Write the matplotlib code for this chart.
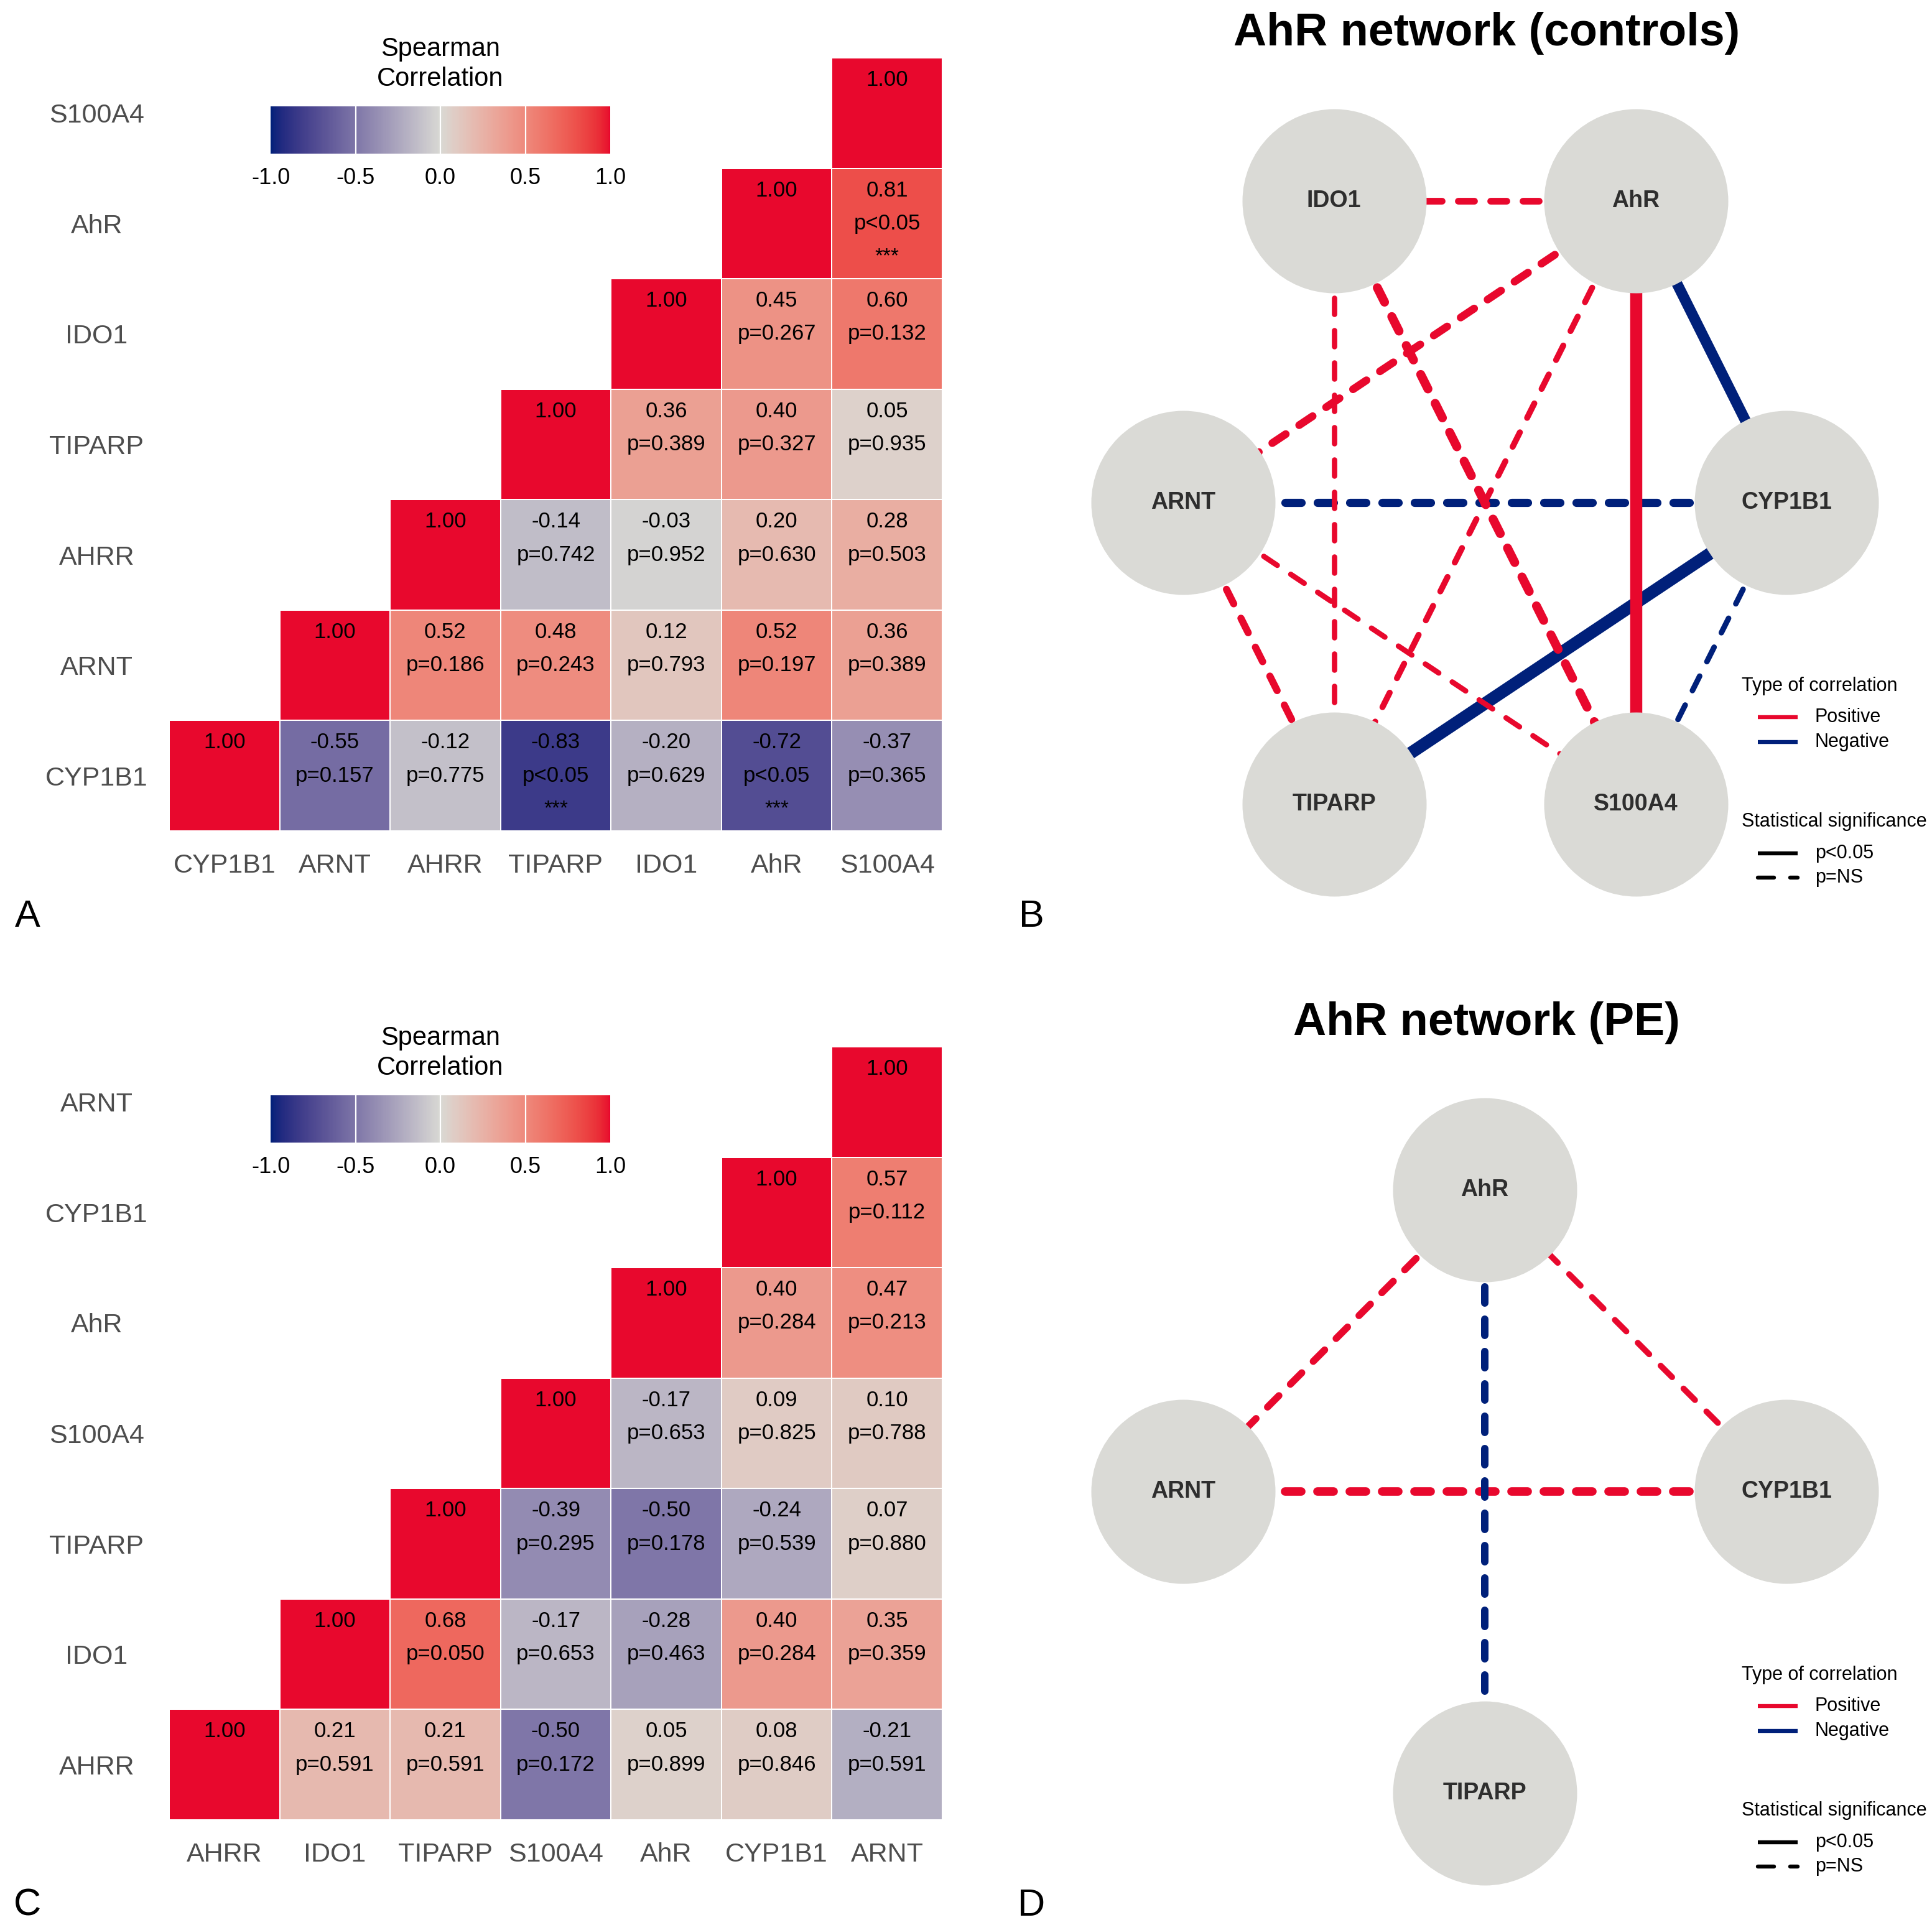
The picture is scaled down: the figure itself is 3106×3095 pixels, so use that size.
import matplotlib
matplotlib.use("Agg")
import matplotlib.pyplot as plt
import numpy as np
from matplotlib.colors import ListedColormap
from matplotlib.lines import Line2D

plt.rcParams['font.family'] = ['Liberation Sans', 'DejaVu Sans']
plt.rcParams['axes.unicode_minus'] = False

# ---- data: controls ----
genes_ctrl = ['CYP1B1', 'ARNT', 'AHRR', 'TIPARP', 'IDO1', 'AhR', 'S100A4']
# row i holds the values for columns i..6
r_ctrl = [
    [1.00, -0.55, -0.12, -0.83, -0.20, -0.72, -0.37],
    [1.00, 0.52, 0.48, 0.12, 0.52, 0.36],
    [1.00, -0.14, -0.03, 0.20, 0.28],
    [1.00, 0.36, 0.40, 0.05],
    [1.00, 0.45, 0.60],
    [1.00, 0.81],
    [1.00],
]
p_ctrl = [
    ['', '0.157', '0.775', '<0.05', '0.629', '<0.05', '0.365'],
    ['', '0.186', '0.243', '0.793', '0.197', '0.389'],
    ['', '0.742', '0.952', '0.630', '0.503'],
    ['', '0.389', '0.327', '0.935'],
    ['', '0.267', '0.132'],
    ['', '<0.05'],
    [''],
]
net_ctrl = ['CYP1B1', 'AhR', 'IDO1', 'ARNT', 'TIPARP', 'S100A4']

# ---- data: PE ----
genes_pe = ['AHRR', 'IDO1', 'TIPARP', 'S100A4', 'AhR', 'CYP1B1', 'ARNT']
r_pe = [
    [1.00, 0.21, 0.21, -0.50, 0.05, 0.08, -0.21],
    [1.00, 0.68, -0.17, -0.28, 0.40, 0.35],
    [1.00, -0.39, -0.50, -0.24, 0.07],
    [1.00, -0.17, 0.09, 0.10],
    [1.00, 0.40, 0.47],
    [1.00, 0.57],
    [1.00],
]
p_pe = [
    ['', '0.591', '0.591', '0.172', '0.899', '0.846', '0.591'],
    ['', '0.050', '0.653', '0.463', '0.284', '0.359'],
    ['', '0.295', '0.178', '0.539', '0.880'],
    ['', '0.653', '0.825', '0.788'],
    ['', '0.284', '0.213'],
    ['', '0.112'],
    [''],
]
net_pe = ['CYP1B1', 'AhR', 'ARNT', 'TIPARP']

RED = '#E8082D'
BLUE = '#00207A'
MID = '#D9D9D4'
NODE = '#DADAD6'

W, H = 3106, 3095
fig = plt.figure(figsize=(W / 200, H / 200), dpi=200)


def box(x0, y0, x1, y1):
    return [x0 / W, 1 - y1 / H, (x1 - x0) / W, (y1 - y0) / H]


def fy(y):
    return 1 - y / H


# colour ramp interpolated in CIE Lab, like ggplot's gradient2
def hex_rgb(h):
    h = h.lstrip('#')
    return np.array([int(h[i:i + 2], 16) / 255 for i in (0, 2, 4)])


M = np.array([[0.4124, 0.3576, 0.1805], [0.2126, 0.7152, 0.0722], [0.0193, 0.1192, 0.9505]])
WHITE = np.array([0.95047, 1.0, 1.08883])


def to_lab(rgb):
    lin = np.where(rgb <= 0.04045, rgb / 12.92, ((rgb + 0.055) / 1.055) ** 2.4)
    xyz = M @ lin / WHITE
    f = np.where(xyz > 0.008856, np.cbrt(xyz), 7.787 * xyz + 16 / 116)
    return np.array([116 * f[1] - 16, 500 * (f[0] - f[1]), 200 * (f[1] - f[2])])


def from_lab(lab):
    fyv = (lab[0] + 16) / 116
    f = np.array([fyv + lab[1] / 500, fyv, fyv - lab[2] / 200])
    xyz = np.where(f ** 3 > 0.008856, f ** 3, (f - 16 / 116) / 7.787) * WHITE
    lin = np.linalg.solve(M, xyz)
    rgb = np.where(lin <= 0.0031308, 12.92 * lin, 1.055 * np.clip(lin, 0, None) ** (1 / 2.4) - 0.055)
    return np.clip(rgb, 0, 1)


lo, mi, hi = to_lab(hex_rgb(BLUE)), to_lab(hex_rgb(MID)), to_lab(hex_rgb(RED))
ramp = []
for v in np.linspace(-1, 1, 256):
    if v < 0:
        ramp.append(from_lab(lo + (mi - lo) * (v + 1)))
    else:
        ramp.append(from_lab(mi + (hi - mi) * v))
cmap = ListedColormap(ramp)


def full_matrix(rows, n):
    mat = np.full((n, n), np.nan)
    for i, row in enumerate(rows):
        for k, v in enumerate(row):
            mat[i, i + k] = v
    return mat


def heatmap(dy, genes, r_rows, p_rows, letter):
    n = len(genes)
    mat = full_matrix(r_rows, n)
    ax = fig.add_axes(box(272, 93 + dy, 1515, 1336 + dy))
    edges = np.arange(n + 1) - 0.5
    mesh = ax.pcolormesh(edges, edges, np.ma.masked_invalid(mat), cmap=cmap,
                         vmin=-1, vmax=1, edgecolors='white', linewidth=0.7)
    ax.set_xlim(-0.5, n - 0.5)
    ax.set_ylim(-0.5, n - 0.5)
    for s in ax.spines.values():
        s.set_visible(False)
    ax.set_xticks(range(n), genes)
    ax.set_yticks(range(n), genes)
    ax.tick_params(length=0, labelsize=15.5, labelcolor='#4D4D4D')
    ax.tick_params(axis='y', pad=42)
    ax.tick_params(axis='x', pad=20)
    for t in ax.get_yticklabels():
        t.set_horizontalalignment('center')
    for t in ax.get_xticklabels():
        t.set_verticalalignment('center')
    for i, row in enumerate(r_rows):
        for k, v in enumerate(row):
            j = i + k
            ax.text(j, i + 0.3, f'{v:.2f}', ha='center', va='center', fontsize=12.5)
            p = p_rows[i][k]
            if p:
                sig = p.startswith('<')
                ax.text(j, i, ('p' if sig else 'p=') + p, ha='center', va='center', fontsize=12.5)
                if sig:
                    ax.text(j, i - 0.3, '***', ha='center', va='center', fontsize=12)

    cax = fig.add_axes(box(435, 171 + dy, 981, 247 + dy))
    cb = fig.colorbar(mesh, cax=cax, orientation='horizontal', ticks=[-1, -0.5, 0, 0.5, 1])
    cb.outline.set_visible(False)
    cb.ax.set_xticklabels(['-1.0', '-0.5', '0.0', '0.5', '1.0'])
    cax.tick_params(length=0, labelsize=13, pad=8)
    for v in (-0.5, 0, 0.5):
        cax.axvline(v, color='white', lw=0.8)
    fig.text(708 / W, fy(103 + dy), 'Spearman\nCorrelation', ha='center', va='center',
             fontsize=15, linespacing=1.25)
    fig.text(44 / W, fy(1474 + dy), letter, ha='center', va='center', fontsize=22)
    return mat


def network(dy, genes, mat, p_rows, nodes, title, letter):
    n = len(nodes)
    ang = 2 * np.pi * np.arange(n) / n
    X, Y = np.cos(ang), np.sin(ang)
    X = np.where(np.abs(X) < 1e-9, 0, X)
    Y = np.where(np.abs(Y) < 1e-9, 0, Y)
    cx, cy, rad = 2387, 808 + dy, 485
    sx, sy = rad / np.abs(X).max(), rad / np.abs(Y).max()
    x0, x1, y0, y1 = 1690, 3090, 130 + dy, 1480 + dy
    ax = fig.add_axes(box(x0, y0, x1, y1))
    ax.set_xlim((x0 - cx) / sx, (x1 - cx) / sx)
    ax.set_ylim((cy - y1) / sy, (cy - y0) / sy)
    ax.axis('off')
    on = 9.36
    for a in range(n):
        for b in range(a + 1, n):
            i, j = sorted((genes.index(nodes[a]), genes.index(nodes[b])))
            r = mat[i, j]
            if abs(r) <= 0.3:
                continue
            p = p_rows[i][j - i]
            lw = 8.64 * abs(r)
            ls = '-' if p.startswith('<') else (0, (on / lw, on / lw))
            ax.plot([X[a], X[b]], [Y[a], Y[b]], color=RED if r > 0 else BLUE, lw=lw,
                    linestyle=ls, dash_capstyle='round', solid_capstyle='butt', zorder=1)
    ax.scatter(X, Y, s=(2 * 148 / 200 * 72) ** 2, color=NODE, linewidths=0, zorder=3, clip_on=False)
    for k, g in enumerate(nodes):
        ax.text(X[k], Y[k], g, ha='center', va='center', fontsize=13.5,
                fontweight='bold', color='#2E2E2E', zorder=4)
    fig.text(2390 / W, fy(54 + dy), title, ha='center', va='center', fontsize=26.5, fontweight='bold')
    fig.text(1658 / W, fy(1474 + dy), letter, ha='center', va='center', fontsize=22)

    # legend
    fig.text(2800 / W, fy(1103 + dy), 'Type of correlation', ha='left', va='center', fontsize=11)
    fig.text(2800 / W, fy(1321 + dy), 'Statistical significance', ha='left', va='center', fontsize=11)
    keys = [(1153, RED, '-', 'Positive'), (1193, BLUE, '-', 'Negative'),
            (1372, 'black', '-', 'p<0.05'), (1411, 'black', (0, (on / 2.3, on / 2.3)), 'p=NS')]
    for yk, col, ls, lab in keys:
        fig.add_artist(Line2D([2826 / W, 2890 / W], [fy(yk + dy)] * 2, color=col, lw=2.3,
                              linestyle=ls, dash_capstyle='round', solid_capstyle='butt'))
        fig.text(2918 / W, fy(yk + dy), lab, ha='left', va='center', fontsize=11)


mat_ctrl = heatmap(0, genes_ctrl, r_ctrl, p_ctrl, 'A')
network(0, genes_ctrl, mat_ctrl, p_ctrl, net_ctrl, 'AhR network (controls)', 'B')

mat_pe = heatmap(1590, genes_pe, r_pe, p_pe, 'C')
network(1590, genes_pe, mat_pe, p_pe, net_pe, 'AhR network (PE)', 'D')

fig.savefig('out.png', dpi=200, facecolor='white')
